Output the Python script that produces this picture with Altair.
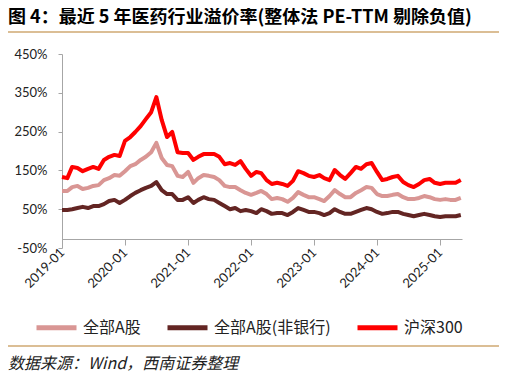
import altair as alt
import pandas as pd

# ---- data ----
months = pd.date_range("2019-01-01", periods=77, freq="MS")

all_a = [97, 97, 107, 110, 102, 105, 110, 112, 125, 130, 138, 136,
         148, 161, 166, 177, 185, 197, 221, 182, 164, 161, 136, 133,
         146, 118, 130, 138, 136, 133, 125, 110, 107, 107, 99, 92,
         87, 92, 97, 89, 76, 79, 76, 69, 79, 94, 87, 81,
         81, 76, 71, 84, 99, 89, 81, 81, 92, 99, 107, 105,
         89, 84, 84, 87, 89, 81, 76, 76, 79, 84, 81, 76,
         74, 76, 74, 74, 79]

all_a_ex_bank = [48, 48, 50, 53, 56, 53, 58, 58, 63, 71, 74, 66,
                 74, 84, 92, 99, 105, 110, 120, 99, 89, 89, 74, 74,
                 81, 66, 74, 81, 76, 74, 66, 58, 50, 53, 45, 48,
                 45, 40, 50, 45, 38, 40, 40, 35, 43, 53, 48, 43,
                 43, 40, 35, 40, 50, 43, 38, 38, 43, 48, 53, 50,
                 43, 38, 40, 43, 43, 38, 35, 32, 35, 38, 35, 32,
                 30, 32, 32, 32, 35]

hs300 = [133, 130, 159, 156, 148, 154, 159, 154, 177, 185, 190, 187,
         226, 236, 249, 264, 282, 300, 339, 280, 236, 249, 197, 195,
         195, 177, 185, 192, 192, 192, 185, 166, 169, 164, 174, 154,
         136, 146, 143, 125, 115, 118, 115, 110, 123, 148, 143, 136,
         133, 138, 130, 125, 151, 138, 128, 143, 159, 154, 166, 169,
         146, 125, 128, 133, 136, 120, 112, 107, 115, 125, 128, 118,
         115, 118, 118, 118, 125]

series_names = ["全部A股", "全部A股(非银行)", "沪深300"]
series_colors = ["#D99694", "#632523", "#FF0000"]
y_ticks = [-50, 50, 150, 250, 350, 450]
title_text = "图 4：最近 5 年医药行业溢价率(整体法 PE-TTM 剔除负值)"
source_text = "数据来源：Wind，西南证券整理"

frames = []
for name, vals in zip(series_names, [all_a, all_a_ex_bank, hs300]):
    frames.append(pd.DataFrame({"date": months, "value": vals, "series": name}))
df = pd.concat(frames, ignore_index=True)

axis_gray = "#A6A6A6"
tan = "#CFA972"
cjk = "Noto Sans CJK SC"

lines = alt.Chart(df).mark_line(strokeWidth=4, strokeJoin="round").encode(
    x=alt.X(
        "date:T",
        scale=alt.Scale(domain=[alt.DateTime(year=2019, month=1, date=1),
                                alt.DateTime(year=2025, month=5, date=8)]),
        axis=alt.Axis(title=None, format="%Y-%m",
                      tickCount={"interval": "year", "step": 1},
                      labelAngle=-45, labelAlign="right", labelBaseline="middle",
                      offset=-9, grid=False, domainColor=axis_gray, tickColor=axis_gray,
                      tickSize=6, labelFont="Lato", labelFontSize=13, labelColor="#222222",
                      labelPadding=5, labelOverlap=False, labelFlush=False),
    ),
    y=alt.Y(
        "value:Q",
        scale=alt.Scale(domain=[-50, 450], nice=False, zero=False),
        axis=alt.Axis(title=None, values=y_ticks, labelExpr="datum.value + '%'",
                      grid=False, domainColor=axis_gray, tickColor=axis_gray, tickSize=4,
                      labelFont="Lato", labelFontSize=13, labelColor="#222222",
                      labelPadding=11),
    ),
    color=alt.Color(
        "series:N",
        scale=alt.Scale(domain=series_names, range=series_colors),
        legend=alt.Legend(title=None, orient="none", legendX=-28, legendY=251,
                          direction="horizontal", symbolType="stroke",
                          symbolStrokeWidth=5, symbolSize=1600,
                          labelFont=cjk, labelFontSize=16, labelColor="#222222",
                          columnPadding=16, labelOffset=4, padding=0),
    ),
)

one = pd.DataFrame({"k": [0]})
top_rule = alt.Chart(one).mark_rule(color=tan, strokeWidth=1.5).encode(
    x=alt.value(-56), x2=alt.value(440), y=alt.value(-22))
bottom_rule = alt.Chart(one).mark_rule(color=tan, strokeWidth=1.5).encode(
    x=alt.value(-56), x2=alt.value(440), y=alt.value(292))
title = alt.Chart(one).mark_text(text=title_text, align="left", baseline="top",
                                 font=cjk, fontSize=18, fontWeight="bold", color="#000000").encode(
    x=alt.value(-54), y=alt.value(-45))
source = alt.Chart(one).mark_text(text=source_text, align="left", baseline="alphabetic",
                                  font=cjk, fontSize=16, fontStyle="italic", color="#222222").encode(
    x=alt.value(-54), y=alt.value(315))

chart = alt.layer(lines, top_rule, bottom_rule, title, source).properties(
    width=400, height=194,
    padding={"left": 54, "top": 46, "right": 37, "bottom": 130},
    autosize=alt.AutoSizeParams(type="none"),
).configure_view(strokeWidth=0)

chart.save("out.html", embed_options={"renderer": "svg", "actions": False})
